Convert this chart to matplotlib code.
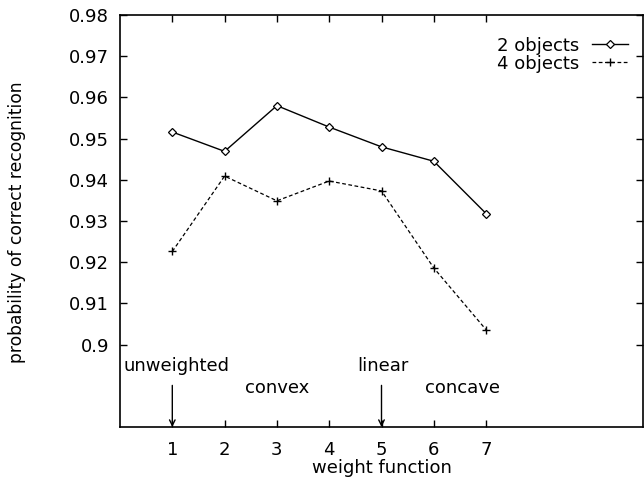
import matplotlib
matplotlib.use("Agg")
import matplotlib.pyplot as plt

plt.rcParams['font.family'] = ['DejaVu Sans']

x = [1, 2, 3, 4, 5, 6, 7]
obj2 = [0.9516, 0.9469, 0.9580, 0.9528, 0.9480, 0.9445, 0.9318]
obj4 = [0.9226, 0.9409, 0.9349, 0.9397, 0.9373, 0.9186, 0.9036]
yticks = [0.9, 0.91, 0.92, 0.93, 0.94, 0.95, 0.96, 0.97, 0.98]
ytick_labels = ["0.9", "0.91", "0.92", "0.93", "0.94", "0.95", "0.96", "0.97", "0.98"]
xticks = [1, 2, 3, 4, 5, 6, 7]

fs = 13
fig = plt.figure(figsize=(6.44, 4.78), dpi=100)
ax = fig.add_axes([120/644, 1-427/478, (643-120)/644, (427-15)/478])

ax.plot(x, obj2, '-', color='black', lw=1.0, marker='D', ms=4, mfc='white', mec='black', mew=0.9, label='2 objects')
ax.plot(x, obj4, '--', color='black', lw=0.9, dashes=(3, 2), marker='+', ms=6, mew=1.0, label='4 objects')

ax.set_xlim(0, 10)
ax.set_ylim(0.88, 0.98)
ax.set_xticks(xticks)
ax.set_yticks(yticks)
ax.set_yticklabels(ytick_labels)
ax.tick_params(direction='in', length=5, width=1, top=True, right=True, labelsize=fs, pad=8)
ax.tick_params(axis='x', pad=10)
for s in ax.spines.values():
    s.set_linewidth(1.2)

ax.set_xlabel('weight function', fontsize=fs, va='center')
ax.xaxis.set_label_coords(0.5, -0.1007)
ax.set_ylabel('probability of correct recognition', fontsize=12.3, va='center')
ax.yaxis.set_label_coords(-0.196, 0.497)

ax.text(1.08, 0.8948, 'unweighted', ha='center', va='center', fontsize=fs)
ax.text(5.03, 0.8948, 'linear', ha='center', va='center', fontsize=fs)
ax.text(3.01, 0.8895, 'convex', ha='center', va='center', fontsize=fs)
ax.text(6.54, 0.8895, 'concave', ha='center', va='center', fontsize=fs)
for xa in (1, 5):
    ax.annotate('', xy=(xa, 0.88), xytext=(xa, 0.8901),
                arrowprops=dict(arrowstyle='->', color='black', lw=1.0, shrinkA=0, shrinkB=0))

ax.legend(loc='upper right', frameon=False, markerfirst=False, fontsize=fs,
          handlelength=2.0, labelspacing=0.0, bbox_to_anchor=(0.985, 0.965), borderaxespad=0,
          handletextpad=0.7)

fig.savefig('out.png', dpi=100)
